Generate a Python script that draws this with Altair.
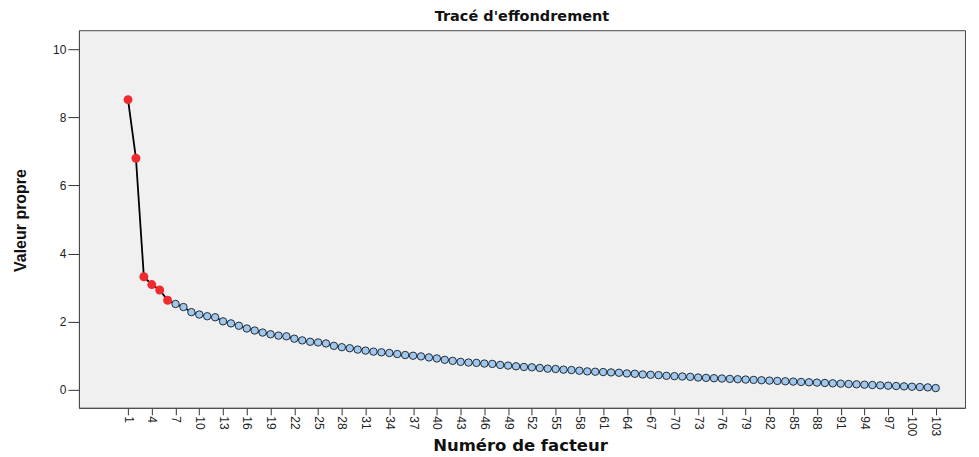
import altair as alt
import pandas as pd

factors = list(range(1, 104))
eigenvalues = [
    8.52, 6.80, 3.32, 3.09, 2.93, 2.63, 2.52, 2.43, 2.28, 2.21,
    2.16, 2.13, 2.01, 1.95, 1.88, 1.80, 1.74, 1.68, 1.63, 1.59,
    1.57, 1.50, 1.45, 1.41, 1.39, 1.36, 1.29, 1.25, 1.22, 1.18,
    1.15, 1.12, 1.10, 1.08, 1.05, 1.02, 1.00, 0.98, 0.95, 0.92,
    0.88, 0.85, 0.82, 0.80, 0.79, 0.77, 0.76, 0.73, 0.71, 0.69,
    0.67, 0.66, 0.64, 0.62, 0.61, 0.59, 0.58, 0.56, 0.54, 0.53,
    0.52, 0.51, 0.50, 0.48, 0.47, 0.45, 0.44, 0.43, 0.41, 0.40,
    0.39, 0.38, 0.36, 0.35, 0.34, 0.33, 0.32, 0.31, 0.30, 0.29,
    0.28, 0.27, 0.26, 0.25, 0.24, 0.23, 0.22, 0.21, 0.20, 0.19,
    0.18, 0.17, 0.16, 0.15, 0.14, 0.13, 0.12, 0.11, 0.10, 0.09,
    0.08, 0.07, 0.05,
]
retained = ["oui"] * 6 + ["non"] * 97
x_tick_values = list(range(1, 104, 3))
y_tick_values = [0, 2, 4, 6, 8, 10]

df = pd.DataFrame({"facteur": factors, "valeur": eigenvalues, "retenu": retained})

W, H = 887, 378

x_enc = alt.X(
    "facteur:Q",
    scale=alt.Scale(domain=[-5.2, 106.7], nice=False, zero=False),
    axis=alt.Axis(
        values=x_tick_values, format="d", labelAngle=90, grid=False,
        tickSize=7, labelPadding=1, labelFontSize=12,
        title="Numéro de facteur", titleFont="DejaVu Sans", titleFontSize=16.5,
        titleFontWeight="bold", titleColor="#111", titleX=W / 2 - 2, titleY=38,
        titleBaseline="middle", labelFont="Liberation Sans",
    ),
)
y_enc = alt.Y(
    "valeur:Q",
    scale=alt.Scale(domain=[-0.53, 10.56], nice=False, zero=False),
    axis=alt.Axis(
        values=y_tick_values, grid=False, tickSize=11, labelPadding=2,
        labelFontSize=12, labelFont="Liberation Sans",
        title="Valeur propre",
        titleFont="Liberation Sans",
        titleFontSize=16, titleFontWeight="bold", titleColor="#111",
        titleX=-58, titleY=H / 2 + 1, titleBaseline="middle", titleAngle=270,
    ),
)

base = alt.Chart(df)
line = base.mark_line(color="black", strokeWidth=1.8).encode(x=x_enc, y=y_enc)
red = base.transform_filter(alt.datum.retenu == "oui").mark_circle(
    color="#F02A2E", opacity=1, size=80
).encode(x=x_enc, y=y_enc)
blue = base.transform_filter(alt.datum.retenu == "non").mark_point(
    shape="circle", filled=True, fill="#A3C7EA", stroke="#1E2D3C",
    strokeWidth=1, opacity=1, size=55
).encode(x=x_enc, y=y_enc)

chart = (
    alt.layer(line, blue, red)
    .properties(
        width=W, height=H,
        autosize=alt.AutoSizeParams(type="none"),
        padding={"left": 71, "top": 22, "right": 6, "bottom": 52},
        title=alt.TitleParams(
            "Tracé d'effondrement", font="DejaVu Sans", fontSize=14.5,
            fontWeight="bold", color="#111", anchor="middle", offset=9,
            baseline="bottom", dy=17,
        ),
        background="white",
    )
    .configure_view(fill="#F0F0F0", stroke="#4A4A4A", strokeWidth=1)
    .configure_axis(domainColor="#4A4A4A", tickColor="#333", labelColor="#222")
)

chart.save("out.html", embed_options={"renderer": "svg", "actions": False})
